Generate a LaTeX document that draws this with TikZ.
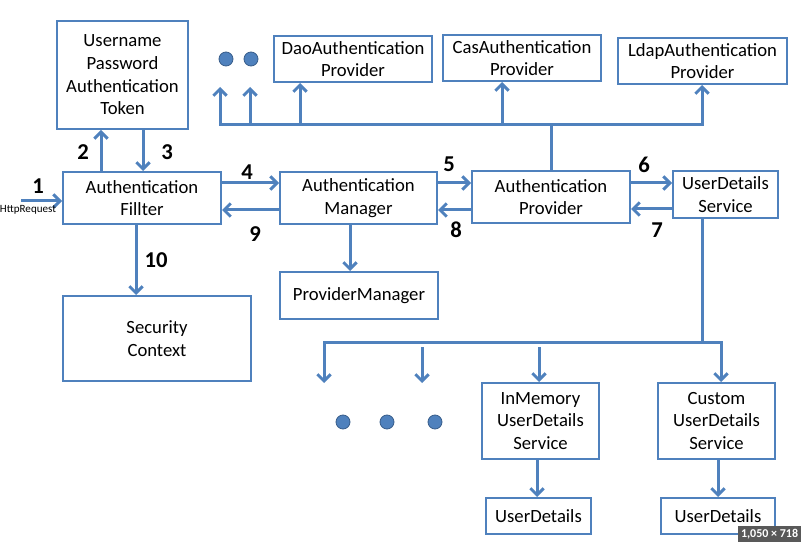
\documentclass[tikz,border=0pt]{standalone}
\usepackage{fontspec}
\setmainfont{Carlito}
\usepackage{xcolor}
\usepackage{tikz}
\usetikzlibrary{arrows.meta}
\definecolor{springblue}{RGB}{79,129,189}
\definecolor{springdark}{RGB}{56,93,138}

\begin{document}
\begin{tikzpicture}[x=0.75pt, y=-0.75pt,
  box/.style={draw=springblue, line width=1.5pt, align=center, inner sep=2pt, font=\fontsize{14}{17}\selectfont},
  link/.style={draw=springblue, line width=2.25pt, line cap=rect},
  arr/.style={link, -{Straight Barb[length=5pt, width=10pt]}},
  num/.style={inner sep=0pt, font=\fontsize{17}{17}\selectfont\bfseries},
  dot/.style={circle, fill=springblue, draw=springdark, line width=0.6pt, minimum size=10.5pt, inner sep=0pt}]
\useasboundingbox (0,0) rectangle (801,542);

% boxes
\node[box, minimum width=98.25pt, minimum height=81pt] (token) at (122.5,75) {Username\\Password\\Authentication\\Token};
\node[box, minimum width=118.5pt, minimum height=39pt] (filter) at (142,198) {Authentication\\Fillter};
\node[box, minimum width=117.75pt, minimum height=39pt] (manager) at (358.5,198) {Authentication\\Manager};
\node[box, minimum width=118.5pt, minimum height=39pt] (provider) at (551,197) {Authentication\\Provider};
\node[box, minimum width=78.75pt, minimum height=35.25pt] (uds) at (725.5,194.5) {UserDetails\\Service};
\node[box, minimum width=118.5pt, minimum height=34.5pt] (dao) at (353,59) {DaoAuthentication\\Provider};
\node[box, minimum width=118.5pt, minimum height=34.5pt] (cas) at (522,58) {CasAuthentication\\Provider};
\node[box, minimum width=126.75pt, minimum height=34.5pt] (ldap) at (702.5,61) {LdapAuthentication\\Provider};
\node[box, minimum width=118.5pt, minimum height=35.25pt] (pm) at (359,295.5) {ProviderManager};
\node[box, minimum width=141pt, minimum height=63.75pt] (sc) at (157,338.5) {Security\\Context};
\node[box, minimum width=87.75pt, minimum height=57pt] (inmem) at (540.5,421) {InMemory\\UserDetails\\Service};
\node[box, minimum width=87.75pt, minimum height=57pt] (custom) at (716.5,421) {Custom\\UserDetails\\Service};
\node[box, minimum width=78.75pt, minimum height=27pt] (ud1) at (538.5,516) {UserDetails};
\node[box, minimum width=85.5pt, minimum height=27pt] (ud2) at (718,516) {UserDetails};

% dots
\node[dot] (dotA) at (226,59) {};
\node[dot] (dotB) at (251,59) {};
\node[dot] (dotC) at (343,422) {};
\node[dot] (dotD) at (387,422) {};
\node[dot] (dotE) at (435,422) {};

% request into the filter
\coordinate (req) at (22,201);
\draw[arr] (req) -- (filter.west |- req);
\node[num] (n1) at (38,186) {1};
\node[inner sep=0pt, font=\fontsize{8.3}{10}\selectfont] (http) at (28,210) {HttpRequest};

% numbered steps
\draw[arr] (filter.north -| 101,0) -- (token.south -| 101,0);
\node[num] (n2) at (83,152) {2};
\draw[arr] (token.south -| 143,0) -- (filter.north -| 143,0);
\node[num] (n3) at (167,152) {3};
\draw[arr] (filter.east |- 0,183) -- (manager.west |- 0,183);
\node[num] (n4) at (247,172) {4};
\draw[arr] (manager.west |- 0,210) -- (filter.east |- 0,210);
\node[num] (n9) at (255,234) {9};
\draw[arr] (manager.east |- 0,183) -- (provider.west |- 0,183);
\node[num] (n5) at (449,164) {5};
\draw[arr] (provider.west |- 0,210) -- (manager.east |- 0,210);
\node[num] (n8) at (456,230) {8};
\draw[arr] (provider.east |- 0,183) -- (uds.west |- 0,183);
\node[num] (n6) at (644,165) {6};
\draw[arr] (uds.west |- 0,209) -- (provider.east |- 0,209);
\node[num] (n7) at (657,230) {7};
\draw[arr] (filter.south -| 136,0) -- (sc.north -| 136,0);
\node[num] (n10) at (156,260) {10};
\draw[arr] (manager.south -| 350,0) -- (pm.north -| 350,0);

% providers bus
\coordinate (pbus) at (551,125);
\coordinate (busL) at (220,125);
\coordinate (busR) at (702,125);
\coordinate (tip1) at (220,87);
\coordinate (tip2) at (250,87);
\draw[link] (provider.north -| pbus) -- (pbus);
\draw[link] (busL) -- (busR);
\draw[arr] (busL) -- (tip1);
\draw[arr] (busL -| tip2) -- (tip2);
\draw[arr] (busL -| 300,0) -- (dao.south -| 300,0);
\draw[arr] (busL -| 502,0) -- (cas.south -| 502,0);
\draw[arr] (busR) -- (ldap.south -| busR);

% user details bus
\coordinate (lbus) at (702,342);
\coordinate (lbusL) at (324,342);
\coordinate (lbusR) at (721,342);
\coordinate (tip3) at (324,383);
\coordinate (tap4) at (422,348);
\coordinate (tip4) at (422,383);
\coordinate (tapmem) at (539,348);
\draw[link] (uds.south -| lbus) -- (lbus);
\draw[link] (lbusL) -- (lbusR);
\draw[arr] (lbusL) -- (tip3);
\draw[arr] (tap4) -- (tip4);
\draw[arr] (tapmem) -- (inmem.north -| tapmem);
\draw[arr] (lbusR) -- (custom.north -| lbusR);
\draw[arr] (inmem.south -| 537,0) -- (ud1.north -| 537,0);
\draw[arr] (custom.south -| 718,0) -- (ud2.north -| 718,0);

% viewer badge
\node[fill=black!65, text=white, font=\fontsize{9}{9}\selectfont\bfseries, inner sep=2pt, anchor=south east] (badge) at (801,542) {1,050 × 718};
\end{tikzpicture}
\end{document}
